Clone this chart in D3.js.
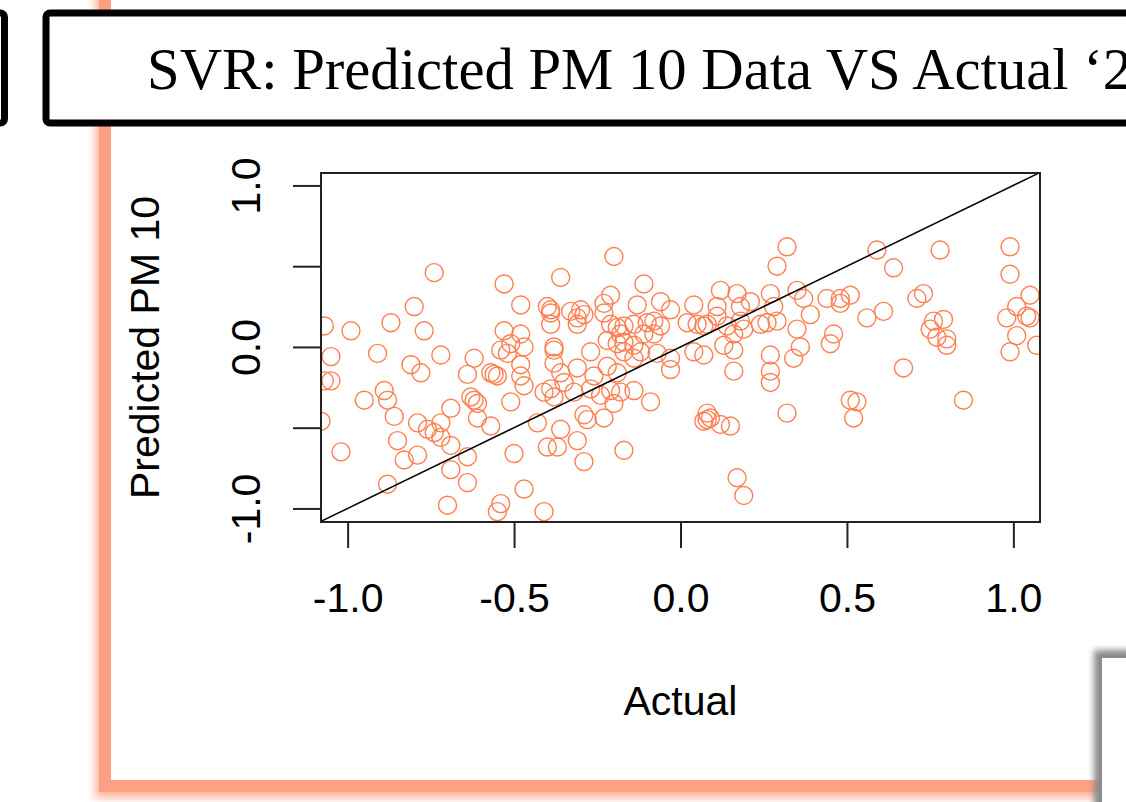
<!DOCTYPE html>
<html>
<head>
<meta charset="utf-8">
<script src="https://cdn.jsdelivr.net/npm/d3@7"></script>
<style>
    html, body { margin: 0; padding: 0; background: #fff; overflow: hidden; }
    svg { display: block; }
</style>
</head>
<body>
<div id="chart"></div>
<script>
// ---- data ----
const titleText = "SVR: Predicted PM 10 Data VS Actual \u20182";
const xLabel = "Actual";
const yLabel = "Predicted PM 10";
const xTicks = [-1, -0.5, 0, 0.5, 1];
const xTickLabels = ["-1.0", "-0.5", "0.0", "0.5", "1.0"];
const yTicks = [-1, -0.5, 0, 0.5, 1];
const yTickLabels = ["-1.0", "", "0.0", "", "1.0"];

const actual = [
    -0.74, -0.53, -0.36, -0.80, -0.48, -0.87, -0.99, -0.77, -1.07, -0.53,
    -0.48, -0.40, -0.39, -0.39, -0.39, -1.05, -0.91, -0.72, -0.81, -0.78,
    -0.62, -0.54, -0.52, -0.47, -0.51, -0.38, -0.38, -0.38, -0.48, -0.64,
    -0.57, -0.56, -0.55, -0.48, -0.47, -1.07, -1.05, -0.89, -0.88, -0.95,
    -0.63, -0.62, -0.61, -0.51, -0.41, -0.39, -0.38, -0.86, -0.69, -0.79,
    -0.76, -0.74, -0.72, -0.72, -0.61, -0.57, -0.43, -1.08, -0.85, -0.83,
    -0.79, -0.69, -0.64, -0.69, -0.64, -1.02, -0.88, -0.50, -0.40, -0.36,
    -0.47, -0.70, -0.54, -0.55, -0.41,
    -0.20, 0.32, 0.29, -0.11, -0.21, -0.23, -0.13, -0.06, -0.03, 0.04,
    0.12, 0.17, 0.21, 0.27, 0.35, 0.28, 0.11, 0.18, -0.33, -0.30,
    -0.29, -0.31, -0.31, -0.23, -0.21, -0.19, -0.17, -0.18, -0.14, -0.10,
    -0.08, -0.06, -0.08, -0.11, 0.02, 0.05, 0.07, 0.08, 0.11, 0.14,
    0.16, 0.19, 0.18, 0.24, 0.26, 0.29, 0.35, -0.27, -0.22, -0.19,
    -0.17, -0.17, -0.14, -0.12, -0.14, -0.07, -0.03, -0.03, 0.04, 0.07,
    0.13, 0.16, 0.16, 0.27, 0.27, 0.27, 0.34, 0.36, -0.31, -0.26,
    -0.22, -0.19, -0.36, -0.35, -0.32, -0.27, -0.24, -0.21, -0.20, -0.18,
    -0.14, -0.09, -0.29, -0.28, -0.23, -0.37, -0.31, -0.29, -0.17, 0.07,
    0.08, 0.08, 0.09, 0.12, 0.15, 0.32, 0.17, 0.19,
    0.59, 0.78, 0.99, 0.64, 0.99, 0.37, 0.39, 0.44, 0.48, 0.48,
    0.51, 0.56, 0.61, 0.46, 0.45, 0.71, 0.73, 0.75, 0.76, 0.79,
    0.77, 0.80, 0.80, 0.67, 0.51, 0.53, 0.52, 0.85, 0.98, 1.01,
    1.04, 1.05, 1.05, 1.01, 0.99, 1.07
];

const predicted = [
    0.46, 0.39, 0.43, 0.25, 0.26, 0.15, 0.10, 0.10, 0.13, 0.10,
    0.08, 0.25, 0.23, 0.21, 0.14, -0.06, -0.04, -0.05, -0.11, -0.16,
    -0.07, -0.02, -0.04, 0.00, 0.02, 0.00, -0.02, -0.10, -0.11, -0.17,
    -0.16, -0.17, -0.18, -0.18, -0.24, -0.21, -0.21, -0.27, -0.33, -0.33,
    -0.31, -0.33, -0.35, -0.34, -0.28, -0.26, -0.31, -0.43, -0.38, -0.47,
    -0.51, -0.53, -0.47, -0.56, -0.44, -0.49, -0.47, -0.46, -0.58, -0.70,
    -0.67, -0.61, -0.68, -0.76, -0.84, -0.65, -0.85, -0.66, -0.62, -0.51,
    -0.88, -0.98, -0.97, -1.02, -1.02,
    0.56, 0.62, 0.50, 0.39, 0.32, 0.27, 0.26, 0.28, 0.23, 0.26,
    0.35, 0.33, 0.28, 0.33, 0.35, 0.25, 0.25, 0.25, 0.22, 0.23,
    0.20, 0.18, 0.14, 0.21, 0.14, 0.12, 0.13, 0.08, 0.14, 0.15,
    0.16, 0.13, 0.08, 0.08, 0.15, 0.14, 0.13, 0.14, 0.19, 0.13,
    0.08, 0.11, 0.16, 0.14, 0.15, 0.16, 0.11, -0.03, 0.04, 0.02,
    0.03, -0.03, 0.01, -0.03, -0.07, -0.04, -0.07, -0.14, -0.03, -0.05,
    0.01, -0.02, -0.15, -0.05, -0.15, -0.22, -0.07, 0.00, -0.13, -0.18,
    -0.12, -0.16, -0.16, -0.22, -0.28, -0.26, -0.30, -0.27, -0.35, -0.28,
    -0.27, -0.34, -0.42, -0.45, -0.44, -0.62, -0.58, -0.71, -0.64, -0.46,
    -0.41, -0.45, -0.44, -0.48, -0.49, -0.41, -0.81, -0.92,
    0.60, 0.60, 0.62, 0.49, 0.45, 0.30, 0.20, 0.30, 0.30, 0.27,
    0.32, 0.18, 0.22, 0.08, 0.02, 0.30, 0.33, 0.11, 0.16, 0.17,
    0.06, 0.05, 0.01, -0.13, -0.33, -0.34, -0.44, -0.33, 0.18, 0.25,
    0.19, 0.32, 0.18, 0.07, -0.03, 0.01
];

const xDomain = [-1.08, 1.08];
const yDomain = [-1.084, 1.077];

// ---- layout ----
const W = 1126, H = 802;
const plot = { left: 321, top: 173, right: 1040, bottom: 522 };
const sansFont = "'Liberation Sans', Arial, sans-serif";
const serifFont = "'Liberation Serif', 'Times New Roman', serif";
const pointColor = "#ff7f50";
const frameColor = "#ffa083";

const svg = d3.select("#chart").append("svg")
    .attr("width", W)
    .attr("height", H);

const defs = svg.append("defs");
defs.append("filter").attr("id", "frameBlur")
    .attr("x", "-10%").attr("y", "-10%").attr("width", "120%").attr("height", "120%")
    .append("feGaussianBlur").attr("stdDeviation", 4);
defs.append("filter").attr("id", "grayShadow")
    .attr("x", "-20%").attr("y", "-20%").attr("width", "140%").attr("height", "140%")
    .append("feDropShadow")
    .attr("dx", -8).attr("dy", -8).attr("stdDeviation", 3)
    .attr("flood-color", "#8a8a8a").attr("flood-opacity", 1);
defs.append("clipPath").attr("id", "plotClip")
    .append("rect")
    .attr("x", plot.left).attr("y", plot.top)
    .attr("width", plot.right - plot.left)
    .attr("height", plot.bottom - plot.top);

// orange slide frame with soft glow
svg.append("rect")
    .attr("x", 103).attr("y", -60)
    .attr("width", 1100).attr("height", 850)
    .attr("fill", "none")
    .attr("stroke", "#ffb59c")
    .attr("stroke-width", 16)
    .attr("filter", "url(#frameBlur)");
svg.append("rect")
    .attr("x", 105).attr("y", -60)
    .attr("width", 1100).attr("height", 846)
    .attr("fill", "#fff")
    .attr("stroke", frameColor)
    .attr("stroke-width", 12);

// ---- scatter plot ----
const x = d3.scaleLinear().domain(xDomain).range([plot.left, plot.right]);
const y = d3.scaleLinear().domain(yDomain).range([plot.bottom, plot.top]);

const points = actual.map((a, i) => ({ actual: a, predicted: predicted[i] }));

const clipped = svg.append("g").attr("clip-path", "url(#plotClip)");

clipped.selectAll(".pt")
    .data(points)
    .join("circle")
    .attr("class", "pt")
    .attr("cx", (d) => x(d.actual))
    .attr("cy", (d) => y(d.predicted))
    .attr("r", 9)
    .attr("fill", "none")
    .attr("stroke", pointColor)
    .attr("stroke-width", 1.4);

// identity line y = x
clipped.append("path")
    .datum([xDomain[0], xDomain[1]])
    .attr("d", d3.line().x((d) => x(d)).y((d) => y(d)))
    .attr("fill", "none")
    .attr("stroke", "#000")
    .attr("stroke-width", 1.5);

// frame box
svg.append("rect")
    .attr("x", plot.left).attr("y", plot.top)
    .attr("width", plot.right - plot.left)
    .attr("height", plot.bottom - plot.top)
    .attr("fill", "none")
    .attr("stroke", "#222")
    .attr("stroke-width", 2);

// x axis
const xAxisG = svg.append("g")
    .attr("transform", `translate(0,${plot.bottom})`)
    .call(d3.axisBottom(x).tickValues(xTicks).tickSize(26)
        .tickFormat((d, i) => xTickLabels[i]));
xAxisG.select(".domain").remove();
xAxisG.selectAll(".tick line").attr("stroke", "#222").attr("stroke-width", 2);
xAxisG.selectAll(".tick text")
    .attr("y", 90).attr("dy", 0)
    .attr("fill", "#000")
    .attr("font-family", sansFont)
    .attr("font-size", 41);

// y axis, labels parallel to axis like R's default
const yAxisG = svg.append("g")
    .attr("transform", `translate(${plot.left},0)`)
    .call(d3.axisLeft(y).tickValues(yTicks).tickSize(28)
        .tickFormat((d, i) => yTickLabels[i]));
yAxisG.select(".domain").remove();
yAxisG.selectAll(".tick line").attr("stroke", "#222").attr("stroke-width", 2);
yAxisG.selectAll(".tick text")
    .attr("transform", "rotate(-90)")
    .attr("x", 0).attr("y", -61).attr("dy", 0)
    .attr("text-anchor", "middle")
    .attr("fill", "#000")
    .attr("font-family", sansFont)
    .attr("font-size", 41);

svg.append("text")
    .attr("x", (plot.left + plot.right) / 2)
    .attr("y", 715)
    .attr("text-anchor", "middle")
    .attr("font-family", sansFont)
    .attr("font-size", 41)
    .text(xLabel);

svg.append("text")
    .attr("transform", `translate(159,${(plot.top + plot.bottom) / 2}) rotate(-90)`)
    .attr("text-anchor", "middle")
    .attr("font-family", sansFont)
    .attr("font-size", 41)
    .text(yLabel);

// ---- slide boxes over the frame ----
svg.append("rect")
    .attr("x", -100).attr("y", 13)
    .attr("width", 104.5).attr("height", 110)
    .attr("rx", 4)
    .attr("fill", "#fff")
    .attr("stroke", "#000")
    .attr("stroke-width", 7);

svg.append("rect")
    .attr("x", 46).attr("y", 13)
    .attr("width", 1200).attr("height", 110)
    .attr("rx", 4)
    .attr("fill", "#fff")
    .attr("stroke", "#000")
    .attr("stroke-width", 7);

svg.append("text")
    .attr("x", 147).attr("y", 89)
    .attr("font-family", serifFont)
    .attr("font-size", 58.7)
    .attr("fill", "#000")
    .text(titleText);

// gray shadowed box peeking in at bottom right
svg.append("rect")
    .attr("x", 1102).attr("y", 658)
    .attr("width", 200).attr("height", 300)
    .attr("fill", "#fff")
    .attr("filter", "url(#grayShadow)");
</script>
</body>
</html>
